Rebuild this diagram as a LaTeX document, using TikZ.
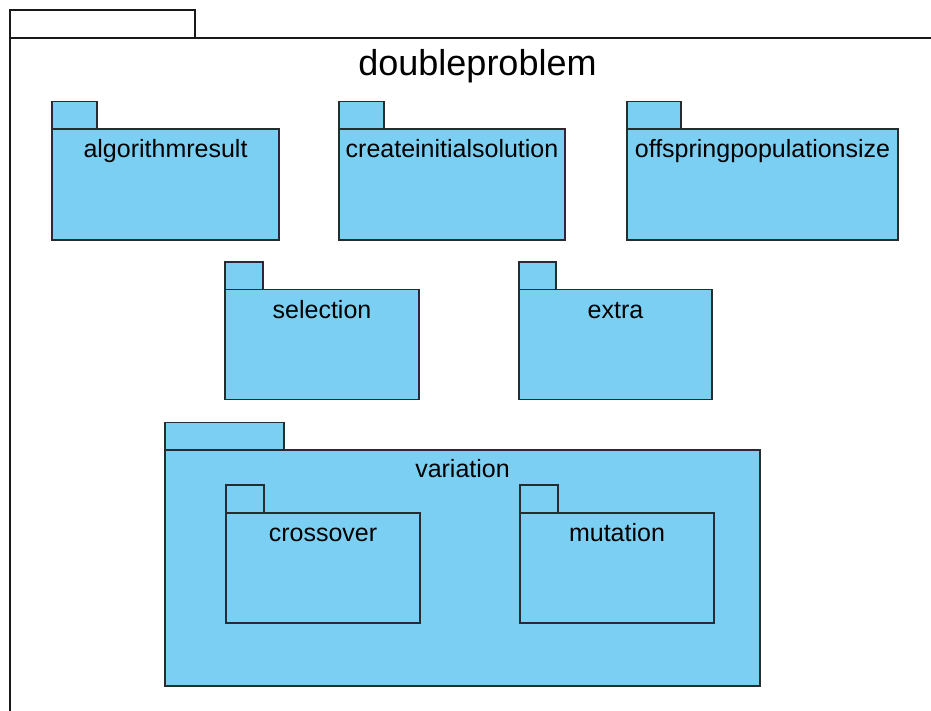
\documentclass[tikz,border=0pt]{standalone}
\usepackage{fontspec}
\setmainfont{Liberation Sans}
\definecolor{pkgblue}{RGB}{123,207,243}
\definecolor{pkgline}{RGB}{40,44,48}
\tikzset{
  pkg/.style={fill=pkgblue, draw=pkgline, line width=1.4pt},
  frame/.style={draw=black!90, line width=1.6pt},
  lbl/.style={anchor=base, inner sep=0pt, font=\fontsize{25}{28}\selectfont},
  ttl/.style={anchor=base, inner sep=0pt, font=\fontsize{36}{40}\selectfont},
}
% #1 tab left, #2 tab right, #3 tab top, #4 body top, #5 body right, #6 body bottom
\newcommand\umlpkg[6]{%
  \draw[pkg] (#1,#3) rectangle (#2,#4);
  \draw[pkg] (#1,#4) rectangle (#5,#6);
}
\begin{document}
\begin{tikzpicture}[x=1pt,y=-1pt]
\useasboundingbox (0,0) rectangle (931,711);
% outer package frame
\draw[frame] (195,10) rectangle (10,38);
\draw[frame] (10,720) -- (10,38) -- (945,38);
\node[ttl] (title) at (477.5,76) {doubleproblem};
% row 1
\umlpkg{52}{97}{101.5}{129}{279}{240}
\node[lbl] (algorithmresult) at (165.5,158) {algorithmresult};
\umlpkg{339}{384}{101.5}{129}{565}{240}
\node[lbl] (createinitialsolution) at (452,158) {createinitialsolution};
\umlpkg{627}{681}{101.5}{129}{898}{240}
\node[lbl] (offspringpopulationsize) at (762.5,158) {offspringpopulationsize};
% row 2
\umlpkg{225}{263}{262}{289.5}{419}{399.5}
\node[lbl] (selection) at (322,318) {selection};
\umlpkg{519}{556}{262}{289.5}{712}{399.5}
\node[lbl] (extra) at (615.5,318) {extra};
% variation
\umlpkg{165}{284}{422.5}{450}{760}{686}
\node[lbl] (variation) at (462.5,477) {variation};
\umlpkg{226}{264}{485}{513}{420}{623}
\node[lbl] (crossover) at (323,541) {crossover};
\umlpkg{520}{558}{485}{513}{714}{623}
\node[lbl] (mutation) at (617,541) {mutation};
\end{tikzpicture}
\end{document}
